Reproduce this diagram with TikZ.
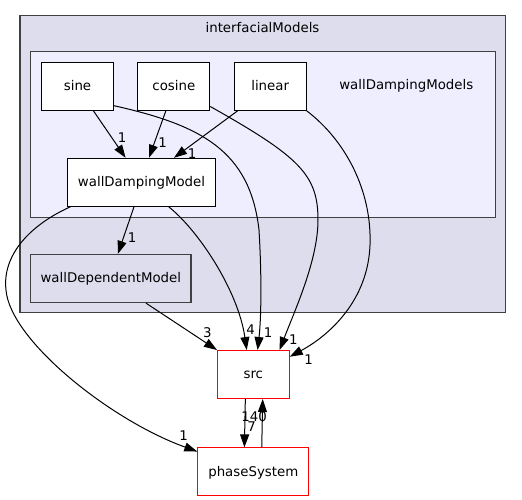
\documentclass[tikz,border=0pt]{standalone}
\usepackage{fontspec}
\setmainfont{DejaVu Sans}
\usetikzlibrary{arrows.meta, positioning}

\begin{document}
\begin{tikzpicture}[
        x=0.75pt, y=-0.75pt,
        cluster/.style={rectangle, draw=black!75, line width=0.9pt, fill=clusterfill, inner sep=0},
        subcluster/.style={rectangle, draw=black!75, line width=0.9pt, fill=subfill, inner sep=0},
        leaf/.style={rectangle, draw=black, line width=0.75pt, fill=white, minimum width=54pt, minimum height=36pt, inner sep=0, text height=1.6ex, text depth=0.4ex},
        subdir/.style={leaf, draw=black!75, line width=0.9pt, fill=clusterfill, minimum width=120.2pt},
        ext/.style={leaf, draw=red},
        lbl/.style={inner sep=0},
        arrow/.style={-{Triangle[length=9.75pt, width=6.75pt]}, line width=0.75pt}
    ]
        \definecolor{clusterfill}{HTML}{DDDDEE}
        \definecolor{subfill}{HTML}{EEEEFF}
        \useasboundingbox (0,0) rectangle (522,500);

        \node[cluster, minimum width=364pt, minimum height=222.75pt] (interfacial) at (262.65,164.2) {};
        \node[lbl] (interfacial-name) at (262.5,27.3) {interfacialModels};
        \node[subcluster, minimum width=348.5pt, minimum height=124.2pt] (walldamping) at (263,134.5) {};
        \node[lbl] (walldamping-name) at (406.3,86) {wallDampingModels};

        \node[leaf] (sine) at (77.5,86.3) {sine};
        \node[leaf, right=17.5pt of sine] (cosine) {cosine};
        \node[leaf, right=17.5pt of cosine] (linear) {linear};
        \node[leaf, minimum width=111.3pt] (wdm) at (141.5,182.3) {wallDampingModel};
        \node[subdir] (wdep) at (110.8,278.5) {wallDependentModel};
        \node[ext] (src) at (253.3,374.5) {src};
        \node[ext, minimum width=83.25pt, below=36.3pt of src] (phase) {phaseSystem};

        \draw[arrow] (sine.-57) -- (wdm.123);
        \draw[arrow] (cosine.-108) -- (wdm.73);
        \draw[arrow] (linear.-143) -- (wdm.37);
        \draw[arrow] (sine.-28) .. controls (200,125) and (250,150) .. (259,230) .. controls (262,280) and (261,320) .. (src.80);
        \draw[arrow] (cosine.-29) .. controls (300,157) and (318,175) .. (318,220) .. controls (318,260) and (295,310) .. (src.43);
        \draw[arrow] (linear.south east) .. controls (345,140) and (372,190) .. (370,245) .. controls (368,300) and (330,335) .. (src.26);
        \draw[arrow] (wdm.-107) -- (wdep.74);
        \draw[arrow] (wdm.-42) .. controls (198,230) and (238,290) .. (src.105);
        \draw[arrow] (wdm.-161) .. controls (30,225) and (2,255) .. (6,290) .. controls (10,340) and (110,420) .. (phase.160);
        \draw[arrow] (wdep.-35) -- (src.146);
        \draw[arrow] (src.-108) -- (phase.110);
        \draw[arrow] (phase.71) -- (src.-69);

        \node[lbl] (n-sine-wdm) at (122,138) {1};
        \node[lbl] (n-cosine-wdm) at (162.7,142.7) {1};
        \node[lbl] (n-linear-wdm) at (192,154) {1};
        \node[lbl] (n-wdm-wdep) at (132,238) {1};
        \node[lbl] (n-wdep-src) at (207.3,332.3) {3};
        \node[lbl] (n-wdm-src) at (250.7,330) {4};
        \node[lbl] (n-sine-src) at (268,333) {1};
        \node[lbl] (n-cosine-src) at (293.3,340) {1};
        \node[lbl] (n-linear-src) at (308.5,359.5) {1};
        \node[lbl] (n-wdm-phase) at (183.7,435.3) {1};
        \node[lbl] (n-src-phase) at (251.5,426.7) {7};
        \node[lbl] (n-phase-src) at (254.2,416.5) {140};
    \end{tikzpicture}
\end{document}
